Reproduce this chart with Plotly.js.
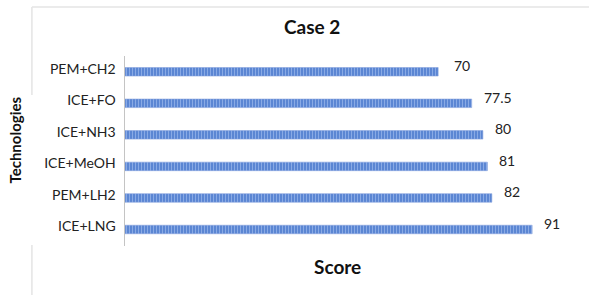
<!DOCTYPE html>
<html><head><meta charset="utf-8">
<script src="https://cdn.plot.ly/plotly-3.0.1.min.js"></script>
<style>html,body{margin:0;padding:0;background:#fff;}#c{width:589px;height:295px;}</style>
</head><body><div id="c"></div>
<script>
const categories = ["PEM+CH2","ICE+FO","ICE+NH3","ICE+MeOH","PEM+LH2","ICE+LNG"];
const scores = [70, 77.5, 80, 81, 82, 91];
const labels = ["70","77.5","80","81","82","91"];

const FONT = 'Lato, Open Sans, sans-serif';
const trace = {
  type: 'bar', orientation: 'h',
  x: scores, y: categories,
  width: 0.27,
  marker: {color: '#5b86d3', line: {width: 0.6, color: '#86a3dd'},
    pattern: {shape: '|', fgcolor: '#8eaee6', bgcolor: '#5b86d3', size: 3, solidity: 0.3}},
  hoverinfo: 'none'
};
const ann = categories.map((c, i) => ({
  x: scores[i], y: c, text: labels[i], showarrow: false,
  xanchor: 'left', xshift: i === 0 ? 14 : 10, yshift: 6,
  font: {family: FONT, size: 14, color: '#222'}
}));
// titles placed as annotations (paper coords)
ann.push({xref: 'paper', yref: 'paper', x: 0.439, y: 1.153, text: '<b>Case 2</b>', showarrow: false,
  xanchor: 'center', yanchor: 'middle', font: {family: FONT, size: 19, color: '#111'}});
ann.push({xref: 'paper', yref: 'paper', x: 0.5, y: -0.11, text: '<b>Score</b>', showarrow: false,
  xanchor: 'center', yanchor: 'middle', font: {family: FONT, size: 19, color: '#111'}});
ann.push({xref: 'paper', yref: 'paper', x: -0.259, y: 0.56, text: '<b>Technologies</b>', showarrow: false,
  textangle: -90, xanchor: 'center', yanchor: 'middle', font: {family: FONT, size: 15, color: '#111'}});

const layout = {
  width: 589, height: 295,
  margin: {l: 125, r: 39, t: 56, b: 49},
  paper_bgcolor: '#fff', plot_bgcolor: '#fff',
  showlegend: false,
  xaxis: {range: [0, 95], showticklabels: false, showgrid: false, zeroline: false, showline: false, ticks: ''},
  yaxis: {type: 'category', categoryorder: 'array', categoryarray: categories, autorange: 'reversed',
    showline: true, linecolor: '#c4c4c4', linewidth: 1.5, showgrid: false, zeroline: false, ticks: '',
    ticklabelstandoff: 5, ticklabelshift: 3,
    tickfont: {family: FONT, size: 14, color: '#222'}},
  annotations: ann,
  shapes: [
    {type: 'line', xref: 'paper', yref: 'paper', x0: -0.219, x1: 1.1, y0: 1.258, y1: 1.258, line: {color: '#e4e4e4', width: 1.5}},
    {type: 'line', xref: 'paper', yref: 'paper', x0: -0.219, x1: -0.219, y0: 1.258, y1: 0.795, line: {color: '#e4e4e4', width: 1.5}},
    {type: 'line', xref: 'paper', yref: 'paper', x0: -0.219, x1: -0.219, y0: 0.005, y1: -0.27, line: {color: '#e4e4e4', width: 1.5}}
  ]
};
Plotly.newPlot('c', [trace], layout, {displayModeBar: false, staticPlot: true});
</script></body></html>
